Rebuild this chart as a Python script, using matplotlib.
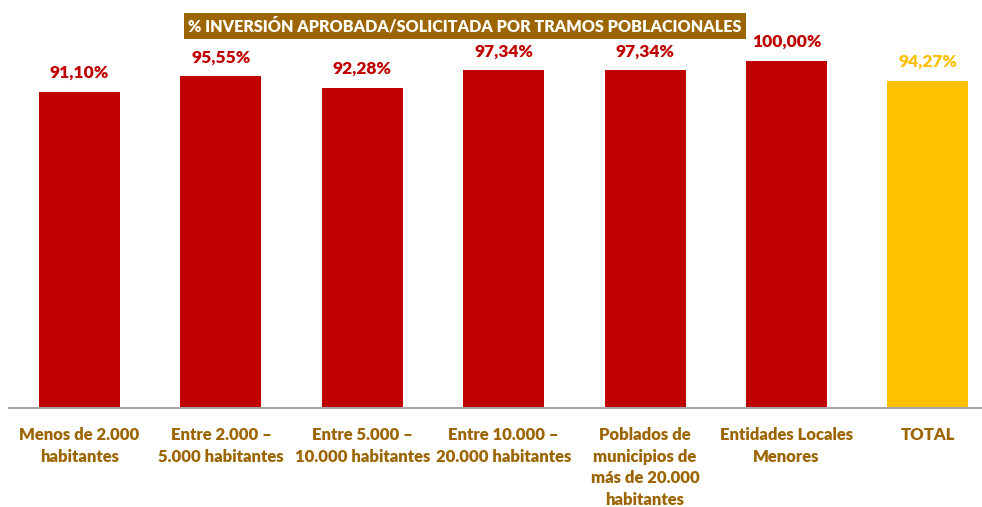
import matplotlib
matplotlib.use('Agg')
import matplotlib.pyplot as plt

# data
categories = ['Menos de 2.000\nhabitantes',
              'Entre 2.000 –\n5.000 habitantes',
              'Entre 5.000 –\n10.000 habitantes',
              'Entre 10.000 –\n20.000 habitantes',
              'Poblados de\nmunicipios de\nmás de 20.000\nhabitantes',
              'Entidades Locales\nMenores',
              'TOTAL']
values = [91.10, 95.55, 92.28, 97.34, 97.34, 100.00, 94.27]
title = '% INVERSIÓN APROBADA/SOLICITADA POR TRAMOS POBLACIONALES'

RED = '#C00000'
GOLD = '#FFC000'
BROWN = '#9C6500'
colors = [RED] * (len(values) - 1) + [GOLD]

WEIGHT = 'heavy'
plt.rcParams['font.family'] = ['Lato', 'DejaVu Sans']
plt.rcParams['font.weight'] = WEIGHT

W, H = 982, 507
fig = plt.figure(figsize=(W / 100, H / 100), dpi=100)
# axes: left edge 8.8px, baseline at y=408px
ax = fig.add_axes([8.8 / W, (H - 408) / H, (W - 8.8) / W, 382 / H])

x = list(range(len(values)))
ax.bar(x, values, width=0.573, color=colors)
ax.set_xlim(-0.5, -0.5 + (W - 8.8) / 141.4)
ax.set_ylim(0, 110)

for xi, v, c in zip(x, values, colors):
    ax.annotate(f'{v:.2f}%'.replace('.', ','), (xi, v), xytext=(0, 13.5),
                textcoords='offset points', ha='center', va='center',
                color=c, fontsize=12.5, fontweight=WEIGHT)

for s in ['top', 'right', 'left']:
    ax.spines[s].set_visible(False)
ax.spines['bottom'].set_color('#A6A6A6')
ax.spines['bottom'].set_linewidth(1.5)
ax.set_yticks([])
ax.set_xticks(x)
ax.set_xticklabels(categories, color=BROWN, fontsize=12, fontweight=WEIGHT,
                   linespacing=1.42, va='top')
ax.tick_params(axis='x', length=0, pad=14)

fig.text(465 / W, 1 - 26 / H, title, ha='center', va='center', color='white',
         fontsize=11.6, fontweight=WEIGHT,
         bbox=dict(boxstyle='square,pad=0.28', fc=BROWN, ec='none'))

fig.savefig('out.png', dpi=100)
